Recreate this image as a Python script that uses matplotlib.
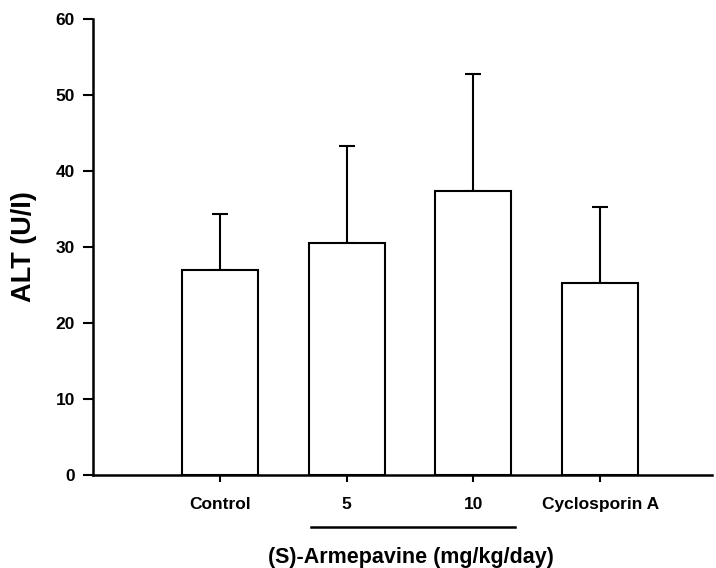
import matplotlib.pyplot as plt
from matplotlib.lines import Line2D

plt.rcParams['font.family'] = ['Liberation Sans', 'DejaVu Sans']
plt.rcParams['font.weight'] = 'bold'

groups = ['Control', '5', '10', 'Cyclosporin A']
means = [27.0, 30.5, 37.4, 25.2]
upper = [34.3, 43.3, 52.8, 35.3]  # top of the error bars
errs = [u - m for u, m in zip(upper, means)]

fig = plt.figure(figsize=(7.16, 5.68), dpi=100)
ax = fig.add_axes([0.130, 0.1637, 0.864, 0.803])

x = [1, 2, 3, 4]
ax.bar(x, means, width=0.6, color='white', edgecolor='black', linewidth=1.5, zorder=2)
ax.errorbar(x, means, yerr=[[0] * 4, errs], fmt='none', ecolor='black',
            elinewidth=1.5, capsize=5.5, capthick=1.5, zorder=1)

ax.set_xlim(0.0, 4.88)
ax.set_ylim(0, 60)
ax.set_yticks(range(0, 61, 10))
ax.set_xticks(x)
ax.set_xticklabels(groups)
ax.spines['top'].set_visible(False)
ax.spines['right'].set_visible(False)
ax.spines['left'].set_linewidth(1.8)
ax.spines['bottom'].set_linewidth(1.8)
ax.tick_params(axis='y', direction='out', length=7, width=1.5, labelsize=12.5, pad=6)
ax.tick_params(axis='x', direction='out', length=5, width=1.5, labelsize=12.5, pad=11)

ax.set_ylabel('ALT (U/I)', fontsize=19.5, fontweight='bold')
ax.yaxis.set_label_coords(-0.0905, 0.5)

# bracket under the armepavine doses
ax.add_line(Line2D([1.72, 3.33], [-0.115, -0.115], transform=ax.get_xaxis_transform(),
                   color='black', linewidth=1.8, clip_on=False))
ax.text(2.51, -0.181, '(S)-Armepavine (mg/kg/day)', transform=ax.get_xaxis_transform(),
        ha='center', va='center', fontsize=15.5, fontweight='bold')

fig.savefig('out.png', dpi=100)
